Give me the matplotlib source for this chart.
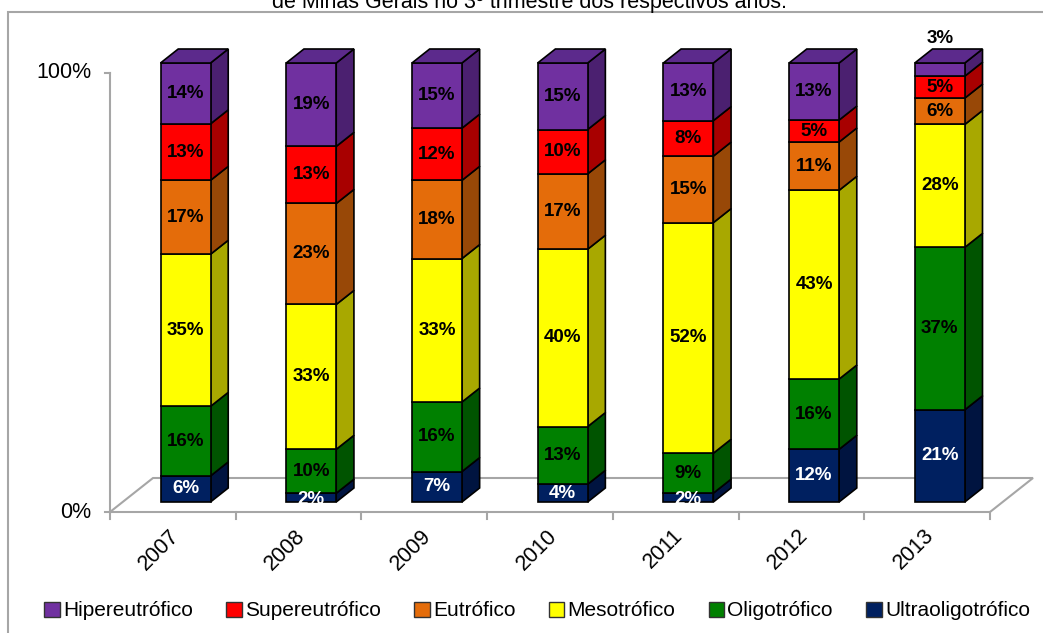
import matplotlib
matplotlib.use("Agg")
import matplotlib.pyplot as plt
from matplotlib.patches import Polygon, Rectangle, Patch

plt.rcParams['font.family'] = ['Liberation Sans', 'DejaVu Sans']

# dados (% por classe de estado trófico)
anos = ["2007", "2008", "2009", "2010", "2011", "2012", "2013"]
classes = ["Ultraoligotrófico", "Oligotrófico", "Mesotrófico",
           "Eutrófico", "Supereutrófico", "Hipereutrófico"]
ultraoligotrofico = [6, 2, 7, 4, 2, 12, 21]
oligotrofico = [16, 10, 16, 13, 9, 16, 37]
mesotrofico = [35, 33, 33, 40, 52, 43, 28]
eutrofico = [17, 23, 18, 17, 15, 11, 6]
supereutrofico = [13, 13, 12, 10, 8, 5, 5]
hipereutrofico = [14, 19, 15, 15, 13, 13, 3]

series = [ultraoligotrofico, oligotrofico, mesotrofico,
          eutrofico, supereutrofico, hipereutrofico]

# cores: frente, lateral
cor_frente = ["#002060", "#008000", "#FFFF00", "#E46C0A", "#FF0000", "#7030A0"]
cor_lado = ["#001440", "#005400", "#A8A800", "#984807", "#A80000", "#4B2070"]
cor_topo = "#5C2A8C"
cor_texto = ["white", "black", "black", "black", "black", "black"]

W, H = 1043, 633
fig = plt.figure(figsize=(W / 100, H / 100), dpi=100)
ax = fig.add_axes([110 / W, (H - 512) / H, 880 / W, 439 / H])
ax.set_xlim(0, 7)
ax.set_ylim(0, 100)
ax.axis("off")

# profundidade do "piso" 3D (em unidades de dados)
DX, DY = 43 / 125.7, 34 / 4.39
f0, fd = 10 / 34, 14 / 34
ox, oy = DX * f0, DY * f0
ddx, ddy = DX * fd, DY * fd
largura = 50 / 125.7

cinza = "#A6A6A6"
piso = Polygon([(0, 0), (7, 0), (7 + DX, DY), (DX, DY)], closed=True,
               fill=False, edgecolor=cinza, lw=1.5, clip_on=False)
ax.add_patch(piso)
ax.plot([0, 0], [0, 100], color=cinza, lw=1.5, clip_on=False)
for yv, lab in [(0, "0%"), (100, "100%")]:
    ax.plot([-0.04, 0], [yv, yv], color=cinza, lw=1.5, clip_on=False)
    ax.text(-0.15, yv, lab, ha="right", va="center", fontsize=15.5)
for i in range(8):
    ax.plot([i, i], [0, -1.5], color=cinza, lw=1.5, clip_on=False)
for i, ano in enumerate(anos):
    ax.text(i + 0.5 - 0.03, -3.0, ano, rotation=45, rotation_mode="anchor",
            ha="right", va="top", fontsize=15.5)

for i in range(len(anos)):
    total = sum(s[i] for s in series)
    x0 = i + 0.5 + ox - largura / 2
    x1 = x0 + largura
    base = 0.0
    for k, s in enumerate(series):
        h = s[i] / total * 100
        b, t = base + oy, base + h + oy
        ax.add_patch(Polygon([(x1, b), (x1 + ddx, b + ddy), (x1 + ddx, t + ddy), (x1, t)],
                             closed=True, facecolor=cor_lado[k], edgecolor="black",
                             lw=1.2, clip_on=False, zorder=2))
        ax.add_patch(Rectangle((x0, b), largura, h, facecolor=cor_frente[k],
                               edgecolor="black", lw=1.2, clip_on=False, zorder=2))
        if k == len(series) - 1:
            ax.add_patch(Polygon([(x0, t), (x1, t), (x1 + ddx, t + ddy), (x0 + ddx, t + ddy)],
                                 closed=True, facecolor=cor_topo, edgecolor="black",
                                 lw=1.2, clip_on=False, zorder=2))
        if h >= 4:
            ax.text((x0 + x1) / 2, (b + t) / 2, f"{s[i]}%", ha="center", va="center",
                    fontsize=13.5, fontweight="bold", color=cor_texto[k], zorder=3)
        elif k == len(series) - 1:
            ax.text((x0 + x1) / 2, t + ddy + 0.4, f"{s[i]}%", ha="center", va="bottom",
                    fontsize=13.5, fontweight="bold", color="black", zorder=3)
        else:
            ax.text((x0 + x1) / 2, (b + t) / 2 - 0.4, f"{s[i]}%", ha="center", va="center",
                    fontsize=13.5, fontweight="bold", color=cor_texto[k], zorder=3)
        base += h

# moldura e título (cortado no topo)
fig.patches.append(Rectangle((8 / W, -0.1), 1.2, 1.1 - 12 / H + 0.0, transform=fig.transFigure,
                             fill=False, edgecolor=cinza, lw=1.5))
fig.text(529 / W, 1 - 8 / H, "de Minas Gerais no 3º trimestre dos respectivos anos.",
         ha="center", va="baseline", fontsize=15.5)

handles = [Patch(facecolor=cor_frente[k], edgecolor="#333333", lw=1.0)
           for k in range(len(classes) - 1, -1, -1)]
labels = [classes[k] for k in range(len(classes) - 1, -1, -1)]
fig.legend(handles, labels, loc="center", bbox_to_anchor=(537 / W, 1 - 611 / H),
           ncol=6, frameon=False, fontsize=15, handlelength=0.75, handleheight=0.75,
           handletextpad=0.15, columnspacing=1.6, borderaxespad=0)

fig.savefig("out.png", dpi=100)
